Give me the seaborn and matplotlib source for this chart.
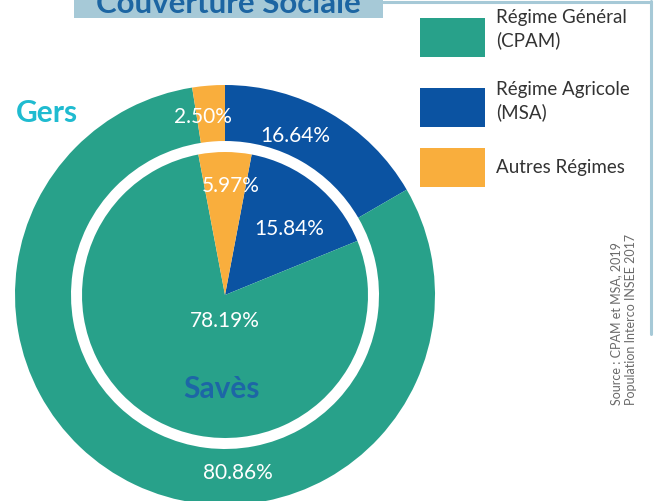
import matplotlib
matplotlib.use("Agg")
import matplotlib.pyplot as plt
from matplotlib.patches import Rectangle
from matplotlib.lines import Line2D
import seaborn as sns

# ---- data ----
categories = ["Régime Général\n(CPAM)", "Régime Agricole\n(MSA)", "Autres Régimes"]
gers_values = [80.86, 16.64, 2.50]
saves_values = [78.19, 15.84, 5.97]
gers_labels = ["80.86%", "16.64%", "2.50%"]
saves_labels = ["78.19%", "15.84%", "5.97%"]
title_text = "Couverture Sociale"
outer_name = "Gers"
inner_name = "Savès"
source_lines = ["Source : CPAM et MSA, 2019", "Population Interco INSEE 2017"]

# ---- style ----
sns.set_theme(style="white")
plt.rcParams["font.family"] = ["Lato", "DejaVu Sans"]
colors = ["#28a18a", "#0b53a2", "#f9ae3d"]
W, H = 654, 501
CX, CY, R = 225, 295, 210.0

fig = plt.figure(figsize=(W / 100, H / 100), dpi=100)
ax = fig.add_axes([0, 0, 1, 1])
ax.set_aspect("equal")
ax.axis("off")

# pie order clockwise from top: blue, teal, orange
order = [1, 0, 2]
outer_vals = [gers_values[i] for i in order]
inner_vals = [saves_values[i] for i in order]
cols = [colors[i] for i in order]

ax.pie(outer_vals, colors=cols, radius=1.0, startangle=90, counterclock=False,
       wedgeprops=dict(width=56 / R, linewidth=0))
inner_start = 90 - saves_values[2] * 3.6 / 2
ax.pie(inner_vals, colors=cols, radius=143 / R, startangle=inner_start, counterclock=False,
       wedgeprops=dict(linewidth=0))
ax.set_xlim(-CX / R, (W - CX) / R)
ax.set_ylim(-(H - CY) / R, CY / R)

# percentage labels (pixel positions -> data)
def px(x, y):
    return (x - CX) / R, (CY - y) / R

gers_pos = [(238, 473), (295, 136), (203, 117)]
saves_pos = [(225, 321), (289, 229), (231, 186)]
for lab, p in zip(gers_labels, gers_pos):
    ax.text(*px(*p), lab, color="white", fontsize=15, ha="center", va="center")
for lab, p in zip(saves_labels, saves_pos):
    ax.text(*px(*p), lab, color="white", fontsize=15, ha="center", va="center")

# names
fig.text(47 / W, 1 - 113 / H, outer_name, color="#1fbbd0", fontsize=21.5, fontweight="bold",
         ha="center", va="center")
fig.text(221 / W, 1 - 389 / H, inner_name, color="#1d66a6", fontsize=21.5, fontweight="bold",
         ha="center", va="center")

# title box
fig.patches.append(Rectangle((74 / W, 1 - 18 / H), 309 / W, 20 / H, transform=fig.transFigure,
                             facecolor="#a6c9d7", edgecolor="none", zorder=0))
fig.text(228 / W, 1 - 13 / H, title_text, color="#1c65a2", fontsize=22.5, fontweight="bold",
         ha="center", va="baseline")

# frame lines
fig.lines.append(Line2D([383 / W, 651 / W], [1 - 2 / H, 1 - 2 / H], transform=fig.transFigure,
                        color="#a6c9d7", linewidth=2.2))
fig.lines.append(Line2D([651 / W, 651 / W], [1 - 1 / H, 1 - 334 / H], transform=fig.transFigure,
                        color="#a6c9d7", linewidth=2.2))

# legend
box_tops = [18, 88, 148]
text_tops = [10, 82, 160]
for cat, c, bt, tt in zip(categories, colors, box_tops, text_tops):
    fig.patches.append(Rectangle((420 / W, 1 - (bt + 39) / H), 65 / W, 39 / H,
                                 transform=fig.transFigure, facecolor=c, edgecolor="none"))
    fig.text(496 / W, 1 - (tt - 1) / H, cat, color="#333333", fontsize=13.5, ha="left", va="top",
             linespacing=1.38)

# source
for txt, x in zip(source_lines, [616, 631]):
    fig.text(x / W, 1 - 405 / H, txt, color="#6a6a6a", fontsize=9,
             rotation=90, rotation_mode="anchor", ha="left", va="center")

fig.savefig("out.png", dpi=100)
